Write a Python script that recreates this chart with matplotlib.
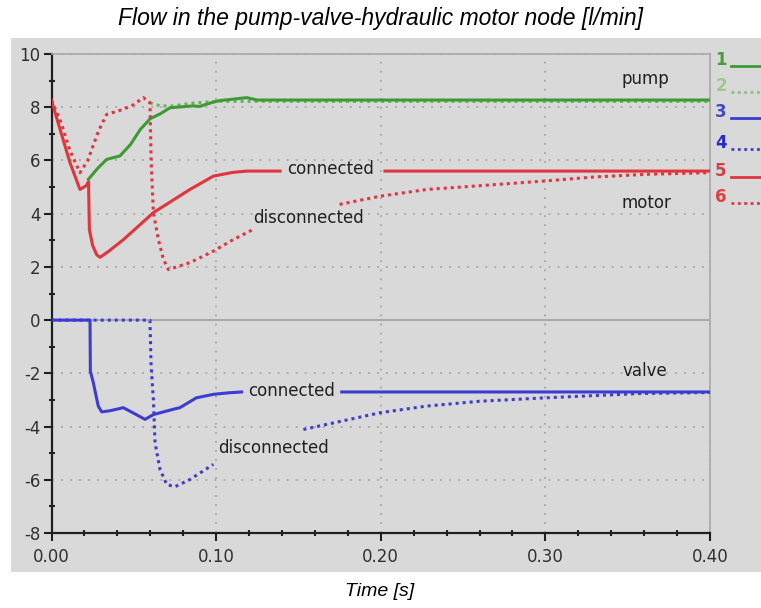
import numpy as np
import matplotlib
matplotlib.use('Agg')
import matplotlib.pyplot as plt
from matplotlib.patches import Rectangle
from matplotlib.lines import Line2D
from matplotlib.ticker import MultipleLocator

nan = np.nan

# pump, connected (1) / disconnected (2)
t_pump_con = [0.0224, 0.028, 0.0335, 0.0416, 0.048, 0.054, 0.060, 0.066, 0.072, 0.086, 0.090, 0.096,
              0.102, 0.110, 0.1186, 0.125, 0.40]
q_pump_con = [5.29, 5.70, 6.04, 6.17, 6.60, 7.17, 7.57, 7.75, 7.98, 8.05, 8.03, 8.15,
              8.25, 8.30, 8.36, 8.27, 8.27]
t_pump_dis = [0.0598, 0.066, 0.074, 0.085, 0.100, 0.40]
q_pump_dis = [8.17, 8.05, 8.05, 8.15, 8.22, 8.22]

# valve, connected (3) / disconnected (4)
t_valve_con = [0.0, 0.0234, 0.0236, 0.0254, 0.0284, 0.0305, 0.036, 0.0436, 0.050, 0.0568,
               0.0619, 0.074, 0.078, 0.088, 0.0983, 0.108, 0.1155, nan, 0.1763, 0.40]
q_valve_con = [0.0, 0.0, -1.92, -2.35, -3.23, -3.45, -3.40, -3.29, -3.50, -3.73,
               -3.55, -3.35, -3.29, -2.92, -2.79, -2.73, -2.70, nan, -2.70, -2.70]
t_valve_dis = [0.0, 0.0598, 0.0605, 0.0619, 0.0629, 0.0659, 0.070, 0.075, 0.0841, 0.0983,
               nan, 0.153, 0.1996, 0.228, 0.26, 0.30, 0.357, 0.40]
q_valve_dis = [0.0, 0.0, -1.73, -3.0, -4.61, -5.61, -6.18, -6.26, -5.99, -5.42,
               nan, -4.11, -3.48, -3.23, -3.05, -2.92, -2.76, -2.72]

# motor, connected (5) / disconnected (6)
t_motor_con = [0.0, 0.0052, 0.0112, 0.0173, 0.021, 0.0225, 0.023, 0.025, 0.0275, 0.0295,
               0.035, 0.0436, 0.0619, 0.0841, 0.0983, 0.110, 0.1186, 0.1388, nan, 0.2026, 0.40]
q_motor_con = [8.26, 7.17, 5.92, 4.91, 5.05, 5.20, 3.40, 2.80, 2.45, 2.36,
               2.60, 3.02, 4.04, 4.91, 5.41, 5.55, 5.60, 5.60, nan, 5.60, 5.60]
t_motor_dis = [0.0, 0.006, 0.011, 0.0173, 0.022, 0.0285, 0.0335, 0.0436, 0.050, 0.0558,
               0.0598, 0.0605, 0.0619, 0.0649, 0.068, 0.071, 0.0841, 0.0983, 0.1105, 0.1226,
               nan, 0.175, 0.200, 0.228, 0.26, 0.30, 0.33, 0.3616, 0.40]
q_motor_dis = [8.26, 7.40, 6.40, 5.54, 6.00, 7.10, 7.73, 7.92, 8.10, 8.36,
               8.17, 6.00, 4.04, 3.03, 2.28, 1.90, 2.16, 2.59, 3.03, 3.41,
               nan, 4.35, 4.66, 4.91, 5.05, 5.23, 5.38, 5.48, 5.54]

green = '#3d9a35'
blue = '#3c3cd2'
red = '#e2343c'
panel = '#d9d9d9'
dots = (0, (1, 1.3))

fig = plt.figure(figsize=(7.61, 6.08), dpi=100)
W, H = 761.0, 608.0

# gray panel behind the plot
fig.patches.append(Rectangle((11 / W, 1 - 572 / H), 1 - 11 / W, (572 - 38) / H,
                             transform=fig.transFigure, facecolor=panel, edgecolor='none', zorder=-5))

ax = fig.add_axes([51.5 / W, 1 - 533 / H, (710 - 51.5) / W, (533 - 54) / H])
ax.set_zorder(2)
ax.set_facecolor(panel)
ax.set_xlim(0, 0.4)
ax.set_ylim(-8, 10)

ax.xaxis.set_major_locator(MultipleLocator(0.1))
ax.xaxis.set_minor_locator(MultipleLocator(0.02))
ax.yaxis.set_major_locator(MultipleLocator(2))
ax.yaxis.set_minor_locator(MultipleLocator(1))
ax.xaxis.set_major_formatter(plt.FuncFormatter(lambda v, p: '%.2f' % v))
ax.yaxis.set_major_formatter(plt.FuncFormatter(lambda v, p: '%d' % v))
ax.tick_params(axis='both', which='major', direction='out', length=6, width=1.5,
               labelsize=12, color='#202020', labelcolor='#303030')
ax.tick_params(axis='both', which='minor', direction='inout', length=5, width=1.5, color='#202020')
ax.tick_params(axis='x', pad=5)
ax.tick_params(axis='y', pad=2)
ax.tick_params(top=False, right=False, which='both')

for s in ['left', 'bottom']:
    ax.spines[s].set_color('#202020')
    ax.spines[s].set_linewidth(1.6)
for s in ['top', 'right']:
    ax.spines[s].set_color('#a8a8a8')
    ax.spines[s].set_linewidth(1.2)

ax.grid(True, which='major', color='#a6a6a6', linestyle=(0, (1, 4)), linewidth=1.3)
ax.axhline(0, color='#a0a0a0', linewidth=1.2, zorder=1)

ax.plot(t_pump_dis, q_pump_dis, color='#6fb060', lw=2.2, linestyle=dots, zorder=3)
ax.plot(t_pump_con, q_pump_con, color=green, lw=2.2, zorder=4)
ax.plot(t_valve_dis, q_valve_dis, color=blue, lw=2.2, linestyle=dots, zorder=3)
ax.plot(t_valve_con, q_valve_con, color=blue, lw=2.2, zorder=4)
ax.plot(t_motor_dis, q_motor_dis, color=red, lw=2.2, linestyle=dots, zorder=5)
ax.plot(t_motor_con, q_motor_con, color=red, lw=2.2, zorder=5)

lab = dict(fontsize=12, color='#202020', ha='center', va='center', zorder=6)
ax.text(0.1697, 5.67, 'connected', **lab)
ax.text(0.156, 3.85, 'disconnected', **lab)
ax.text(0.146, -2.67, 'connected', **lab)
ax.text(0.135, -4.80, 'disconnected', **lab)
ax.text(0.3606, 9.05, 'pump', **lab)
ax.text(0.3616, 4.41, 'motor', **lab)
ax.text(0.3606, -1.92, 'valve', **lab)

# numbered legend on the right
legend_items = [('1', green, '-', '#4a9a40'), ('2', '#8cc080', dots, '#9cc890'),
                ('3', blue, '-', '#4848c8'), ('4', blue, dots, '#2828d0'),
                ('5', red, '-', '#d04048'), ('6', red, dots, '#e04040')]
rows = [60, 86, 112, 143, 171, 197]
for (num, col, ls, tcol), ypx in zip(legend_items, rows):
    fig.text(721 / W, 1 - ypx / H, num, color=tcol, fontsize=12, fontweight='bold',
             ha='center', va='center')
    fig.add_artist(Line2D([731 / W, 761 / W], [1 - (ypx + 6) / H] * 2, color=col, lw=2,
                          linestyle=ls, transform=fig.transFigure))

fig.text(381 / W, 1 - 18 / H, 'Flow in the pump-valve-hydraulic motor node [l/min]',
         fontsize=16.5, fontstyle='italic', family='Liberation Sans', ha='center', va='center')
fig.text(380 / W, 1 - 592 / H, 'Time [s]', fontsize=14, fontstyle='italic',
         family='Liberation Sans', ha='center', va='center')

fig.savefig('out.png', dpi=100)
